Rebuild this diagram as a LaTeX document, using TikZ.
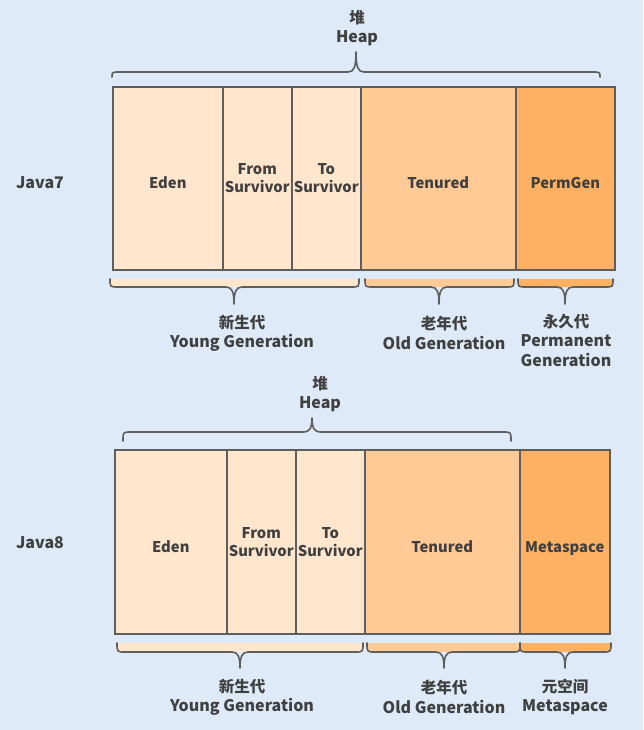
\documentclass[tikz,border=0pt]{standalone}
\usepackage{fontspec}
\setmainfont{Noto Sans CJK SC}
\definecolor{bg}{HTML}{DEEAF8}
\definecolor{young}{HTML}{FFE6CC}
\definecolor{old}{HTML}{FFCA95}
\definecolor{perm}{HTML}{FFB163}
\definecolor{edge}{HTML}{5E5E5E}
\definecolor{txt}{HTML}{404040}
% top brace: #1 xl, #2 xr, #3 xc, #4 y of ends, #5 y of flat, #6 y of tip
\newcommand\topbrace[6]{%
  \draw[brace] (#1,#4) .. controls (#1,#5) .. (#1+8,#5) -- (#3-8,#5)
    .. controls (#3-2,#5) and (#3,#5-5) .. (#3,#6)
    .. controls (#3,#5-5) and (#3+2,#5) .. (#3+8,#5) -- (#2-8,#5)
    .. controls (#2,#5) .. (#2,#4);}
% bottom brace: #1 xl, #2 xr, #3 xc, #4 y top of band, #5 y of flat, #6 y of tip, #7 fill colour
\newcommand\botbrace[7]{%
  \fill[#7] (#1,#4) .. controls (#1,#5) .. (#1+8,#5) -- (#2-8,#5)
    .. controls (#2,#5) .. (#2,#4) -- cycle;
  \draw[brace] (#1,#4) .. controls (#1,#5) .. (#1+8,#5) -- (#3-8,#5)
    .. controls (#3-2,#5) and (#3,#5+5) .. (#3,#6)
    .. controls (#3,#5+5) and (#3+2,#5) .. (#3+8,#5) -- (#2-8,#5)
    .. controls (#2,#5) .. (#2,#4);}
\newcommand\zh[1]{{\bfseries\fontsize{15.5}{19}\selectfont #1}}
\begin{document}
\begin{tikzpicture}[x=1pt,y=-1pt,
  cell/.style={draw=edge, line width=1.6pt, anchor=north west, inner sep=0pt,
    align=center, font=\bfseries\fontsize{14.8}{18}\selectfont, text=txt},
  one/.style={text height=21pt, text depth=0pt},
  lbl/.style={align=center, inner sep=0pt, text=txt,
    font=\bfseries\fontsize{16}{19.5}\selectfont},
  brace/.style={draw=edge, line width=1.6pt, line cap=round, line join=round}]
\fill[bg] (0,0) rectangle (643,730);
\useasboundingbox (0,0) rectangle (643,730);

% ---------------- Java7 ----------------
\node[lbl] (j7) at (40,183) {Java7};
\node[lbl] (heap7) at (357,28) {\zh{堆}\\Heap};
\topbrace{112}{600}{356}{77}{72}{52}
\node[cell, one, fill=young, minimum width=110pt, minimum height=183pt] (eden7) at (112,86) {Eden};
\node[cell, fill=young, minimum width=69pt, minimum height=183pt] (from7) at (222,86) {From\\Survivor};
\node[cell, fill=young, minimum width=69pt, minimum height=183pt] (to7) at (291,86) {To\\Survivor};
\node[cell, one, fill=old, minimum width=155pt, minimum height=183pt] (ten7) at (360,86) {Tenured};
\node[cell, one, fill=perm, minimum width=99pt, minimum height=183pt] (perm7) at (515,86) {PermGen};

\botbrace{110}{359}{234}{279}{287}{304}{young}
\botbrace{365}{514}{439}{279}{287}{304}{old}
\botbrace{518}{613}{565}{279}{287}{304}{perm}
\node[lbl] (yg7) at (242,333) {\zh{新生代}\\Young Generation};
\node[lbl] (og7) at (444,333) {\zh{老年代}\\Old Generation};
\node[lbl, anchor=north] (pg7) at (566,314) {\zh{永久代}\\Permanent\\Generation};

% ---------------- Java8 ----------------
\node[lbl] (j8) at (40,543) {Java8};
\node[lbl] (heap8) at (320,394) {\zh{堆}\\Heap};
\topbrace{123}{511}{312}{441}{432}{418}
\node[cell, one, fill=young, minimum width=112pt, minimum height=184pt] (eden8) at (114,449) {Eden};
\node[cell, fill=young, minimum width=69pt, minimum height=184pt] (from8) at (226,449) {From\\Survivor};
\node[cell, fill=young, minimum width=69pt, minimum height=184pt] (to8) at (295,449) {To\\Survivor};
\node[cell, one, fill=old, minimum width=155pt, minimum height=184pt] (ten8) at (364,449) {Tenured};
\node[cell, one, fill=perm, minimum width=90pt, minimum height=184pt] (meta8) at (519,449) {Metaspace};

\botbrace{117}{363}{240}{643}{652}{668}{young}
\botbrace{367}{520}{444}{643}{652}{668}{old}
\botbrace{520}{611}{565}{643}{652}{668}{perm}
\node[lbl] (yg8) at (242,697) {\zh{新生代}\\Young Generation};
\node[lbl] (og8) at (444,697) {\zh{老年代}\\Old Generation};
\node[lbl] (ms8) at (565,697) {\zh{元空间}\\Metaspace};
\end{tikzpicture}
\end{document}
